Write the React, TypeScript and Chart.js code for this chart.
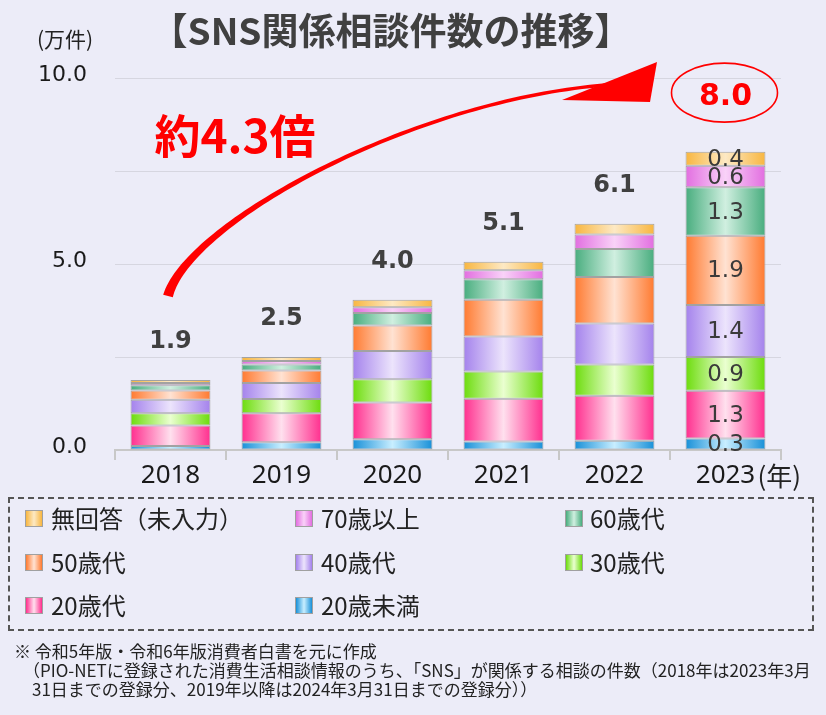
import React, { useEffect, useRef } from 'react';
import { Chart, registerables } from 'chart.js';

Chart.register(...registerables);

// ---------- data ----------
const categories = ['2018', '2019', '2020', '2021', '2022', '2023'];
const seriesNames = ['20歳未満', '20歳代', '30歳代', '40歳代', '50歳代', '60歳代', '70歳以上', '無回答（未入力）'];
const under20 = [0.11, 0.21, 0.29, 0.23, 0.25, 0.31];
const age20s = [0.55, 0.78, 0.99, 1.15, 1.21, 1.28];
const age30s = [0.33, 0.38, 0.62, 0.73, 0.84, 0.91];
const age40s = [0.36, 0.43, 0.76, 0.94, 1.10, 1.40];
const age50s = [0.25, 0.34, 0.69, 0.99, 1.25, 1.86];
const age60s = [0.14, 0.16, 0.33, 0.55, 0.75, 1.30];
const age70plus = [0.06, 0.09, 0.16, 0.24, 0.39, 0.58];
const noAnswer = [0.08, 0.11, 0.20, 0.23, 0.29, 0.38];
const seriesValues = [under20, age20s, age30s, age40s, age50s, age60s, age70plus, noAnswer];
const yMin = 0;
const yMax = 10;
const yStep = 2.5;
const yLabelEvery = 5;
const title = '【SNS関係相談件数の推移】';
const unitLabel = '(万件)';
const yearUnit = '(年)';
const growthLabel = '約4.3倍';
const footnotes = [
  '※ 令和5年版・令和6年版消費者白書を元に作成',
  '（PIO-NETに登録された消費生活相談情報のうち、「SNS」が関係する相談の件数（2018年は2023年3月',
  '31日までの登録分、2019年以降は2024年3月31日までの登録分））',
];

// ---------- styles ----------
const BG = '#ececf8';
const palette: [string, string][] = [
  ['#1890d8', '#c8eeff'],
  ['#ff2e8e', '#ffe0ee'],
  ['#6cdc0c', '#eaffd0'],
  ['#a482ec', '#ece4fc'],
  ['#ff7a30', '#ffe2d2'],
  ['#48ad7e', '#d0efe0'],
  ['#e26ee0', '#f9d2f8'],
  ['#f8b640', '#fde9c4'],
];
const BAR_FRACTION = 0.72;

const makeFill = (edge: string, mid: string) => (c: any) => {
  const chart = c.chart;
  const xs = chart.scales?.x;
  if (!chart.chartArea || !xs || c.type !== 'data') return edge;
  const cx = xs.getPixelForValue(c.dataIndex);
  const half = ((xs.width / categories.length) * BAR_FRACTION) / 2;
  const g = chart.ctx.createLinearGradient(cx - half, 0, cx + half, 0);
  g.addColorStop(0, edge);
  g.addColorStop(0.5, mid);
  g.addColorStop(1, edge);
  return g;
};

const totals = categories.map((_, i) => seriesValues.reduce((s, arr) => s + arr[i], 0));

const annotPlugin = {
  id: 'annot',
  afterDatasetsDraw(chart: any) {
    const { ctx, scales } = chart;
    const x = scales.x;
    const y = scales.y;
    const last = categories.length - 1;
    ctx.save();
    // totals above bars
    ctx.textAlign = 'center';
    ctx.textBaseline = 'middle';
    ctx.fillStyle = '#404040';
    ctx.font = 'bold 24px "DejaVu Sans"';
    totals.forEach((t, i) => {
      if (i === last) return;
      ctx.fillText(t.toFixed(1), x.getPixelForValue(i), y.getPixelForValue(t) - 38);
    });
    // last bar segment labels
    ctx.font = '23px "DejaVu Sans"';
    ctx.fillStyle = '#3a3a3a';
    seriesValues.forEach((arr, d) => {
      const el = chart.getDatasetMeta(d).data[last];
      if (!el) return;
      ctx.fillText(arr[last].toFixed(1), el.x, (el.y + el.base) / 2 + 1);
    });
    // oval with final total
    const ox = x.getPixelForValue(last) - 1;
    const topPx = y.getPixelForValue(totals[last]);
    const oy = topPx - 59;
    ctx.beginPath();
    ctx.ellipse(ox, oy, 53, 29.5, 0, 0, Math.PI * 2);
    ctx.strokeStyle = '#ff0000';
    ctx.lineWidth = 1.6;
    ctx.stroke();
    ctx.fillStyle = '#ff0000';
    ctx.font = 'bold 30px "DejaVu Sans"';
    ctx.fillText(totals[last].toFixed(1), ox + 1, oy + 5);

    // curved arrow
    const P0 = { x: 168, y: 296 };
    const P1 = { x: 188, y: 222 };
    const P2 = { x: 420, y: 95 };
    const P3 = { x: 620, y: 84 };
    const bez = (t: number) => {
      const u = 1 - t;
      return {
        x: u * u * u * P0.x + 3 * u * u * t * P1.x + 3 * u * t * t * P2.x + t * t * t * P3.x,
        y: u * u * u * P0.y + 3 * u * u * t * P1.y + 3 * u * t * t * P2.y + t * t * t * P3.y,
      };
    };
    const der = (t: number) => {
      const u = 1 - t;
      return {
        x: 3 * u * u * (P1.x - P0.x) + 6 * u * t * (P2.x - P1.x) + 3 * t * t * (P3.x - P2.x),
        y: 3 * u * u * (P1.y - P0.y) + 6 * u * t * (P2.y - P1.y) + 3 * t * t * (P3.y - P2.y),
      };
    };
    const N = 80;
    const a: { x: number; y: number }[] = [];
    const b: { x: number; y: number }[] = [];
    for (let i = 0; i <= N; i++) {
      const t = i / N;
      const p = bez(t);
      const d = der(t);
      const len = Math.hypot(d.x, d.y) || 1;
      const nx = -d.y / len;
      const ny = d.x / len;
      const u = 1 - t;
      const w = (3.5 + 6.5 * u * u * u) / 2;
      a.push({ x: p.x + nx * w, y: p.y + ny * w });
      b.push({ x: p.x - nx * w, y: p.y - ny * w });
    }
    ctx.beginPath();
    ctx.moveTo(a[0].x, a[0].y);
    a.forEach((p) => ctx.lineTo(p.x, p.y));
    for (let i = b.length - 1; i >= 0; i--) ctx.lineTo(b[i].x, b[i].y);
    ctx.closePath();
    ctx.fillStyle = '#ff0000';
    ctx.fill();
    ctx.beginPath();
    ctx.moveTo(657, 62);
    ctx.lineTo(562, 100);
    ctx.lineTo(650, 102);
    ctx.closePath();
    ctx.fill();

    // growth label
    ctx.font = 'bold 46px "Noto Sans CJK JP"';
    ctx.fillStyle = '#ff0000';
    ctx.fillText(growthLabel, 235, 136);

    // year unit
    ctx.font = '26px "Noto Sans CJK JP"';
    ctx.fillStyle = '#222';
    ctx.textAlign = 'left';
    ctx.fillText(yearUnit, x.getPixelForValue(last) + 32, x.top + 26);
    ctx.restore();
  },
};

export default function App() {
  const ref = useRef<HTMLCanvasElement>(null);
  useEffect(() => {
    document.body.style.margin = '0';
    document.body.style.background = BG;
    const chart = new Chart(ref.current as HTMLCanvasElement, {
      type: 'bar',
      data: {
        labels: categories,
        datasets: seriesNames.map((name, i) => ({
          label: name,
          data: seriesValues[i],
          backgroundColor: makeFill(palette[i][0], palette[i][1]),
          borderColor: '#a2a2a2',
          borderWidth: 1,
          borderSkipped: false,
          categoryPercentage: BAR_FRACTION,
          barPercentage: 1,
        })),
      },
      options: {
        responsive: false,
        animation: false,
        layout: { padding: { top: 78, bottom: 215, left: 0, right: 45 } },
        plugins: { legend: { display: false }, tooltip: { enabled: false } },
        scales: {
          x: {
            stacked: true,
            afterFit: (s: any) => {
              s.height = 50;
            },
            grid: {
              display: true,
              drawOnChartArea: false,
              drawTicks: true,
              tickLength: 10,
              color: '#c8c8c8',
              lineWidth: 2,
              offset: true,
            },
            border: { display: true, color: '#c8c8c8', width: 2 },
            ticks: {
              color: '#1a1a1a',
              font: { family: '"Noto Sans"', size: 26 },
              padding: 0,
              maxRotation: 0,
            },
          },
          y: {
            stacked: true,
            min: yMin,
            max: yMax,
            afterFit: (s: any) => {
              s.width = 115;
            },
            grid: { color: '#d6d6e0', lineWidth: 1, drawTicks: false },
            border: { display: false },
            ticks: {
              stepSize: yStep,
              padding: 28,
              labelOffset: -3,
              color: '#1a1a1a',
              font: { family: '"DejaVu Sans"', size: 22 },
              callback: (v: any) => (Number(v) % yLabelEvery === 0 ? Number(v).toFixed(1) : ''),
            },
          },
        },
      },
      plugins: [annotPlugin],
    });
    return () => chart.destroy();
  }, []);

  const legendOrder = seriesNames.map((n, i) => ({ name: n, colors: palette[i] })).reverse();
  const colMarkerX = [25, 295, 565];
  const colTextX = [51, 321, 590];
  const rowY = [518, 562, 605];

  return (
    <div
      style={{
        position: 'relative',
        width: 826,
        height: 715,
        background: BG,
        overflow: 'hidden',
        fontFamily: '"Noto Sans CJK JP", "Noto Sans", sans-serif',
        color: '#222',
      }}
    >
      <canvas ref={ref} width={826} height={715} style={{ position: 'absolute', left: 0, top: 0 }} />
      <div
        style={{
          position: 'absolute',
          left: 0,
          width: 782,
          top: 9,
          lineHeight: '40px',
          fontSize: 37,
          fontWeight: 'bold',
          textAlign: 'center',
          color: '#404040',
          whiteSpace: 'nowrap',
        }}
      >
        {title}
      </div>
      <div style={{ position: 'absolute', left: 37, top: 25, lineHeight: '26px', fontSize: 21, whiteSpace: 'nowrap' }}>
        {unitLabel}
      </div>
      <div
        style={{
          position: 'absolute',
          left: 8,
          top: 497,
          width: 806,
          height: 134,
          boxSizing: 'border-box',
          border: '2px dashed #555',
        }}
      />
      {legendOrder.map((item, k) => {
        const r = Math.floor(k / 3);
        const c = k % 3;
        return (
          <React.Fragment key={item.name}>
            <div
              style={{
                position: 'absolute',
                left: colMarkerX[c],
                top: rowY[r] - 8,
                width: 18,
                height: 17,
                boxSizing: 'border-box',
                border: '1px solid #a0a0a0',
                background: `linear-gradient(to right, ${item.colors[0]}, ${item.colors[1]}, ${item.colors[0]})`,
              }}
            />
            <div
              style={{
                position: 'absolute',
                left: colTextX[c],
                top: rowY[r] - 15,
                lineHeight: '30px',
                fontSize: 24,
                whiteSpace: 'nowrap',
              }}
            >
              {item.name}
            </div>
          </React.Fragment>
        );
      })}
      {footnotes.map((line, i) => (
        <div
          key={i}
          style={{
            position: 'absolute',
            left: i === 0 ? 14 : i === 1 ? 23 : 32,
            top: [651, 670, 689][i] - 10,
            lineHeight: '20px',
            fontSize: 17,
            whiteSpace: 'nowrap',
          }}
        >
          {line}
        </div>
      ))}
    </div>
  );
}
